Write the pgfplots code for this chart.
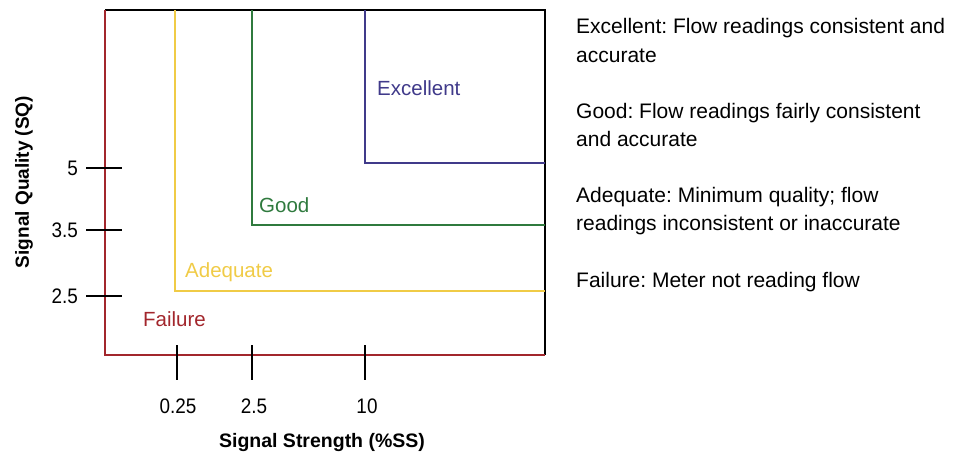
\documentclass[border=0pt]{standalone}
\usepackage{fontspec}
\setmainfont{Liberation Sans}
\newfontfamily\narrowfont{Liberation Sans}[FakeStretch=0.9]
\usepackage{pgfplots}
\pgfplotsset{compat=1.18}
\definecolor{cRed}{RGB}{162,38,44}
\definecolor{cYel}{RGB}{240,203,70}
\definecolor{cGrn}{RGB}{47,122,62}
\definecolor{cPur}{RGB}{64,58,138}
\frenchspacing
\begin{document}
\begin{tikzpicture}
\useasboundingbox (0,0) rectangle (964pt,453pt);
\begin{axis}[
  at={(105pt,98pt)}, anchor=south west,
  x=1pt, y=1pt, y dir=reverse,
  xmin=105, xmax=545, ymin=10, ymax=355,
  clip=false,
  axis line style={draw=none},
  major tick length=0pt,
  xtick={176,252,365}, xticklabels={0.25,2.5,10},
  ytick={168,230,296}, yticklabels={5,3.5,2.5},
  xticklabel style={anchor=base, inner sep=0pt, yshift=-58pt, xshift=2pt},
  yticklabel style={anchor=east, inner sep=0pt, xshift=-27pt},
  tick label style={font=\narrowfont\fontsize{21}{24}\selectfont},
]
% frame
\addplot[black, line width=1.8pt] coordinates {(105,10) (545,10) (545,355)};
\addplot[cRed, line width=1.8pt] coordinates {(105,10) (105,355) (545,355)};
% regions
\addplot[cYel, line width=1.6pt] coordinates {(175,10) (175,291) (545,291)};
\addplot[cGrn, line width=1.6pt] coordinates {(252,10) (252,225) (545,225)};
\addplot[cPur, line width=1.6pt] coordinates {(365,10) (365,163) (545,163)};
% tick marks
\addplot[black, line width=1.6pt] coordinates {(86,168) (122,168)};
\addplot[black, line width=1.6pt] coordinates {(86,230) (122,230)};
\addplot[black, line width=1.6pt] coordinates {(86,296) (122,296)};
\addplot[black, line width=1.6pt] coordinates {(177,345) (177,380)};
\addplot[black, line width=1.6pt] coordinates {(252,345) (252,380)};
\addplot[black, line width=1.6pt] coordinates {(365,345) (365,380)};
% region labels
\begin{scope}[every node/.style={anchor=base west, inner sep=0pt, font=\fontsize{20.5}{24}\selectfont}]
\node[text=cPur] at (axis cs:377,95) {Excellent};
\node[text=cGrn] at (axis cs:259,212) {Good};
\node[text=cYel] at (axis cs:185,277) {Adequate};
\node[text=cRed] at (axis cs:143,326) {Failure};
\end{scope}
% axis labels
\node[anchor=base, inner sep=0pt, font=\fontsize{19.5}{22}\selectfont\bfseries] at (axis cs:322,447) {Signal Strength (\%SS)};
\node[anchor=base, inner sep=0pt, rotate=90, font=\fontsize{19}{22}\selectfont\bfseries] at (axis cs:29,182) {Signal Quality (SQ)};
% description text
\begin{scope}[every node/.style={anchor=base west, inner sep=0pt, font=\fontsize{21}{24}\selectfont}]
\node at (axis cs:576,33) {Excellent: Flow readings consistent and};
\node at (axis cs:576,62) {accurate};
\node at (axis cs:576,118) {Good: Flow readings fairly consistent};
\node at (axis cs:576,146) {and accurate};
\node at (axis cs:576,202) {Adequate: Minimum quality; flow};
\node at (axis cs:576,230) {readings inconsistent or inaccurate};
\node at (axis cs:576,287) {Failure: Meter not reading flow};
\end{scope}
\end{axis}
\end{tikzpicture}
\end{document}
